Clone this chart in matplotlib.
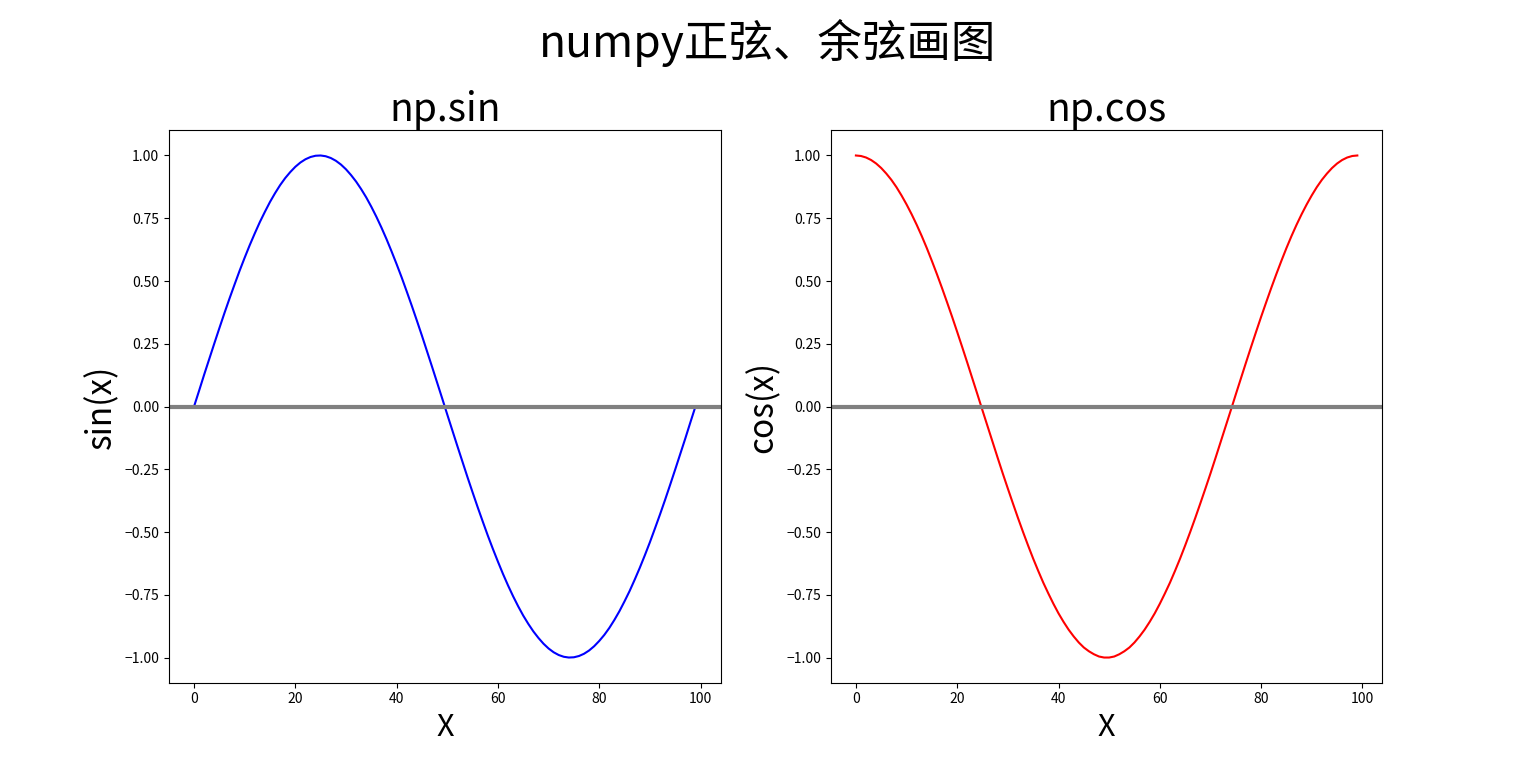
import matplotlib
matplotlib.use('Agg')
import matplotlib.pyplot as plt

plt.rcParams['font.family'] = ['Noto Sans CJK SC', 'DejaVu Sans']
plt.rcParams['axes.unicode_minus'] = True

# values: sample index 0..99
idx = list(range(100))

sin_half = [0.000, 0.063, 0.127, 0.189, 0.251, 0.312, 0.372, 0.430, 0.486, 0.541,
            0.593, 0.643, 0.690, 0.735, 0.776, 0.815, 0.850, 0.882, 0.910, 0.934,
            0.955, 0.972, 0.985, 0.994, 0.999, 1.000, 0.997, 0.990, 0.979, 0.964,
            0.945, 0.922, 0.896, 0.866, 0.833, 0.796, 0.756, 0.713, 0.667, 0.618,
            0.567, 0.514, 0.458, 0.401, 0.342, 0.282, 0.220, 0.158, 0.095, 0.032]
sin_vals = sin_half + [-0.032, -0.095, -0.158, -0.220, -0.282, -0.342, -0.401, -0.458, -0.514, -0.567,
                       -0.618, -0.667, -0.713, -0.756, -0.796, -0.833, -0.866, -0.896, -0.922, -0.945,
                       -0.964, -0.979, -0.990, -0.997, -1.000, -0.999, -0.994, -0.985, -0.972, -0.955,
                       -0.934, -0.910, -0.882, -0.850, -0.815, -0.776, -0.735, -0.690, -0.643, -0.593,
                       -0.541, -0.486, -0.430, -0.372, -0.312, -0.251, -0.189, -0.127, -0.063, 0.000]

cos_vals = [1.000, 0.998, 0.992, 0.982, 0.968, 0.950, 0.928, 0.903, 0.874, 0.841,
            0.805, 0.766, 0.724, 0.679, 0.631, 0.580, 0.527, 0.472, 0.415, 0.357,
            0.297, 0.236, 0.174, 0.111, 0.048, -0.016, -0.079, -0.142, -0.205, -0.267,
            -0.327, -0.386, -0.444, -0.500, -0.554, -0.606, -0.655, -0.702, -0.745, -0.786,
            -0.824, -0.858, -0.889, -0.916, -0.940, -0.960, -0.975, -0.987, -0.996, -1.000,
            -1.000, -0.996, -0.987, -0.975, -0.960, -0.940, -0.916, -0.889, -0.858, -0.824,
            -0.786, -0.745, -0.702, -0.655, -0.606, -0.554, -0.500, -0.444, -0.386, -0.327,
            -0.267, -0.205, -0.142, -0.079, -0.016, 0.048, 0.111, 0.174, 0.236, 0.297,
            0.357, 0.415, 0.472, 0.527, 0.580, 0.631, 0.679, 0.724, 0.766, 0.805,
            0.841, 0.874, 0.903, 0.928, 0.950, 0.968, 0.982, 0.992, 0.998, 1.000]

fig, axs = plt.subplots(1, 2, figsize=(15.36, 7.67), dpi=100)
fig.subplots_adjust(left=0.110, right=0.900, top=0.830, bottom=0.110, wspace=0.2)

# left: sin
axs[0].plot(idx, sin_vals, color='blue', linewidth=1.5)
axs[0].axhline(0, color='gray', linewidth=3)
axs[0].set_title('np.sin', fontsize=28)
axs[0].set_xlabel('X', fontsize=22)
axs[0].set_ylabel('sin(x)', fontsize=24)

# right: cos
axs[1].plot(idx, cos_vals, color='red', linewidth=1.5)
axs[1].axhline(0, color='gray', linewidth=3)
axs[1].set_title('np.cos', fontsize=28)
axs[1].set_xlabel('X', fontsize=22)
axs[1].set_ylabel('cos(x)', fontsize=24)

for ax in axs:
    ax.set_ylim(-1.1, 1.1)
    ax.set_yticks([-1.0, -0.75, -0.5, -0.25, 0.0, 0.25, 0.5, 0.75, 1.0])
    ax.tick_params(labelsize=10)

fig.suptitle('numpy正弦、余弦画图', fontsize=32, y=0.975)
fig.savefig('out.png', dpi=100)
